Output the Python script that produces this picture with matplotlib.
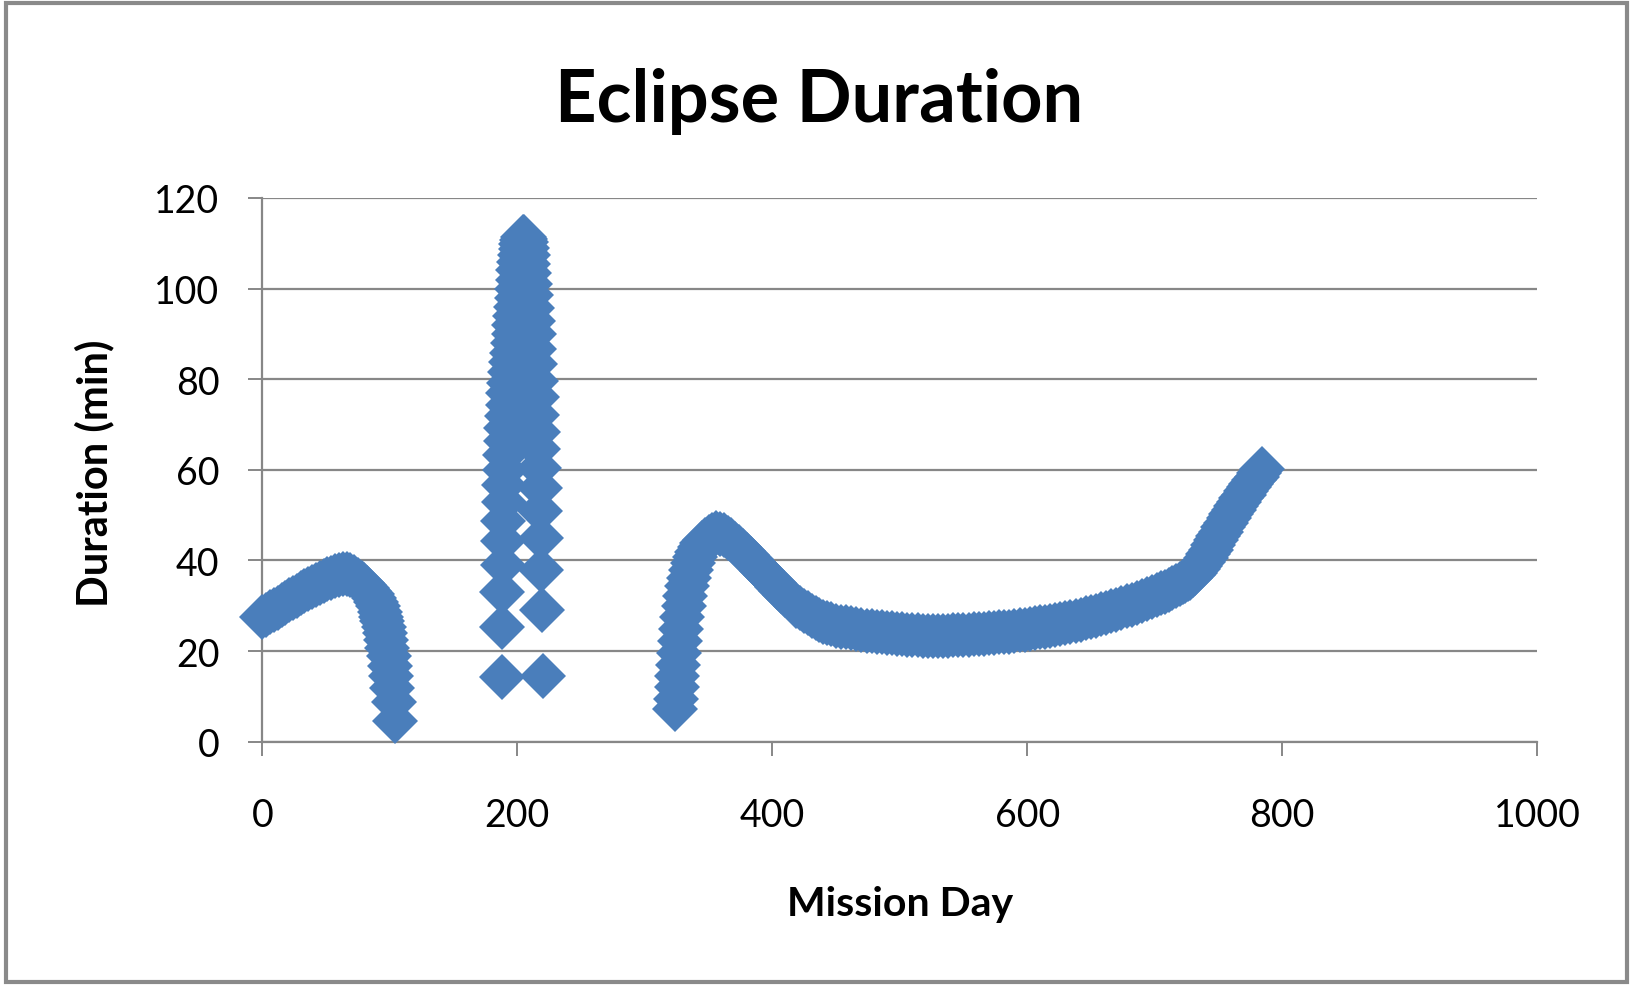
import matplotlib.pyplot as plt
from matplotlib.patches import Rectangle

# eclipse season 1 (mission start)
days_1 = [0, 3, 6, 9, 12, 15, 18, 21, 24, 27, 30, 33, 36, 39, 42, 45, 48, 51,
          54, 57, 60, 63, 66, 69, 72, 75, 78, 80, 82, 84, 86, 87.5, 89, 90.5,
          92, 93, 94, 95, 96, 97, 98, 99, 100, 101, 102, 103, 104]
minutes_1 = [27.5, 28.0, 28.6, 29.1, 29.6, 30.1, 30.7, 31.2, 31.7, 32.2, 32.7,
             33.2, 33.7, 34.2, 34.6, 35.0, 35.5, 35.9, 36.2, 36.5, 36.8, 37.0,
             37.0, 36.8, 36.3, 35.7, 35.0, 34.5, 33.9, 33.2, 32.5, 31.8, 30.9,
             29.9, 28.6, 27.6, 26.6, 25.3, 23.9, 22.4, 20.7, 18.8, 16.7, 14.4,
             11.9, 8.7, 4.6]

# eclipse season 2 (long eclipses around day 200)
days_2 = [187.6, 187.9, 188.2, 188.5, 188.8, 189.1, 189.4, 189.7, 190.0, 190.4,
          190.8, 191.3, 191.8, 192.3, 192.9, 193.5, 194.2, 194.9, 195.6, 196.3,
          197.0, 197.6, 198.2, 198.8, 199.4, 199.9, 200.4, 200.9, 201.4, 201.9,
          202.5, 203.1, 203.8, 204.5, 205.2,
          205.9, 206.6, 207.3, 208.0, 208.7, 209.4, 210.1, 210.8, 211.5, 212.2,
          212.8, 213.4, 214.0, 214.6, 215.1, 215.6, 216.1, 216.6, 217.0, 217.4,
          217.8, 218.3, 218.8, 219.3, 219.8]
minutes_2 = [14.3, 25.2, 33.0, 39.0, 44.2, 48.8, 52.9, 56.6, 60.0, 63.3,
             66.3, 69.2, 71.9, 74.4, 76.9, 79.2, 81.5, 83.7, 85.8, 87.9,
             90.0, 92.0, 94.0, 96.0, 98.0, 100.0, 102.0, 104.0, 105.8, 107.4,
             108.8, 109.9, 110.8, 111.3, 111.4,
             111.0, 110.2, 109.0, 107.4, 105.5, 103.4, 101.0, 98.5, 95.8, 92.9,
             89.9, 86.7, 83.3, 79.7, 76.0, 72.2, 68.4, 64.5, 60.4, 56.0,
             50.8, 44.9, 37.9, 29.1, 14.4]

# eclipse season 3 (day 324 to end of data)
days_3 = [323.7, 324.3, 324.9, 325.5, 326.1, 326.8, 327.6, 328.5, 329.5, 330.6,
          331.8, 333.1, 334.5, 336.0, 337.6, 339.3, 341.1, 343.0, 345.0, 347.5,
          350, 353, 356, 359, 362, 365, 368, 371, 374, 377, 380, 383, 386, 389,
          392, 395, 398, 401, 404, 407, 410, 413, 416, 419, 422, 425, 428, 431,
          434, 437, 440, 443, 446, 450, 454, 458, 462, 466, 470, 474, 478, 482,
          486, 490, 494, 498, 502, 506, 510, 514, 518, 522, 526, 530, 534, 538,
          542, 546, 550, 554, 558, 562, 566, 570, 574, 578, 582, 586, 590, 594,
          598, 602, 606, 610, 614, 618, 622, 626, 630, 634, 638, 642, 646, 650,
          654, 658, 662, 666, 670, 674, 678, 682, 686, 690, 694, 698, 702, 705,
          708, 711, 714, 717, 720, 722, 724, 726, 728, 730, 732, 734, 736, 738,
          740, 742, 744, 746, 748, 750, 752, 754, 756, 758, 760, 762, 764, 766,
          768, 770, 772, 774, 776, 778, 780, 782, 784]
minutes_3 = [7.2, 9.5, 12.0, 14.5, 17.0, 19.6, 22.2, 24.8, 27.4, 29.9,
             32.2, 34.3, 36.2, 37.9, 39.4, 40.7, 41.9, 42.9, 43.8, 44.6,
             45.2, 45.7, 46.0, 45.9, 45.5, 45.0, 44.4, 43.7, 43.0, 42.1, 41.2,
             40.3, 39.4, 38.5, 37.6, 36.8, 35.9, 35.0, 34.1, 33.2, 32.4, 31.6,
             30.8, 30.0, 29.4, 28.8, 28.3, 27.8, 27.3, 26.9, 26.5, 26.2, 25.9,
             25.6, 25.4, 25.2, 25.0, 24.8, 24.7, 24.5, 24.4, 24.2, 24.1, 24.0,
             23.9, 23.8, 23.7, 23.6, 23.5, 23.45, 23.4, 23.4, 23.4, 23.4, 23.4,
             23.4, 23.45, 23.5, 23.55, 23.6, 23.65, 23.7, 23.8, 23.9, 24.0,
             24.1, 24.2, 24.3, 24.4, 24.55, 24.7, 24.85, 25.0, 25.2, 25.35,
             25.55, 25.75, 26.0, 26.2, 26.45, 26.7, 26.95, 27.25, 27.5, 27.8,
             28.1, 28.45, 28.8, 29.15, 29.5, 29.85, 30.2, 30.6, 31.0, 31.4,
             31.85, 32.3, 32.7, 33.1, 33.55, 34.0, 34.4, 34.9, 35.2, 35.5, 35.8,
             36.2, 36.7, 37.3, 38.0, 38.8, 39.6, 40.5, 41.4, 42.4, 43.4, 44.4,
             45.3, 46.3, 47.3, 48.3, 49.3, 50.2, 51.1, 52.0, 52.9, 53.7, 54.5,
             55.3, 56.1, 56.9, 57.7, 58.5, 59.3, 60.1]

x_ticks = [0, 200, 400, 600, 800, 1000]
y_ticks = [0, 20, 40, 60, 80, 100, 120]

blue = "#4A7EBB"
grey = "#878787"

plt.rcParams["font.family"] = ["Lato", "DejaVu Sans"]

fig = plt.figure(figsize=(16.33, 9.87), dpi=100)
ax = fig.add_axes([0.1607, 0.2476, 0.7805, 0.5508])

for d, m in [(days_1, minutes_1), (days_2, minutes_2), (days_3, minutes_3)]:
    ax.plot(d, m, linestyle="none", marker="D", markersize=23.5,
            markeredgewidth=0, color=blue, clip_on=False, zorder=3)

ax.set_xlim(0, 1000)
ax.set_ylim(0, 120)
ax.set_xticks(x_ticks)
ax.set_yticks(y_ticks)
ax.yaxis.grid(True, color=grey, linewidth=1.6)
ax.set_axisbelow(True)

for side in ["top", "right"]:
    ax.spines[side].set_visible(False)
for side in ["left", "bottom"]:
    ax.spines[side].set_color(grey)
    ax.spines[side].set_linewidth(1.6)

ax.tick_params(axis="both", direction="out", length=10, width=1.4,
               color=grey, labelsize=27, labelcolor="black")
ax.tick_params(axis="y", pad=21)
ax.tick_params(axis="x", pad=30)

fig.text(0.5015, 0.8764, "Eclipse Duration", ha="center", va="baseline",
         fontsize=52, fontweight="bold")
fig.text(94 / 1633, 1 - 473 / 987, "Duration (min)", rotation=90,
         ha="center", va="center", fontsize=30, fontweight="bold")
fig.text(900 / 1633, 1 - 916 / 987, "Mission Day", ha="center",
         va="baseline", fontsize=29.5, fontweight="bold")

# outer chart border
fig.patches.append(Rectangle((6 / 1633, 4 / 987), 1621 / 1633, 979 / 987,
                             transform=fig.transFigure, fill=False,
                             edgecolor="#8a8a8a", linewidth=3))

fig.savefig("out.png", dpi=100)
